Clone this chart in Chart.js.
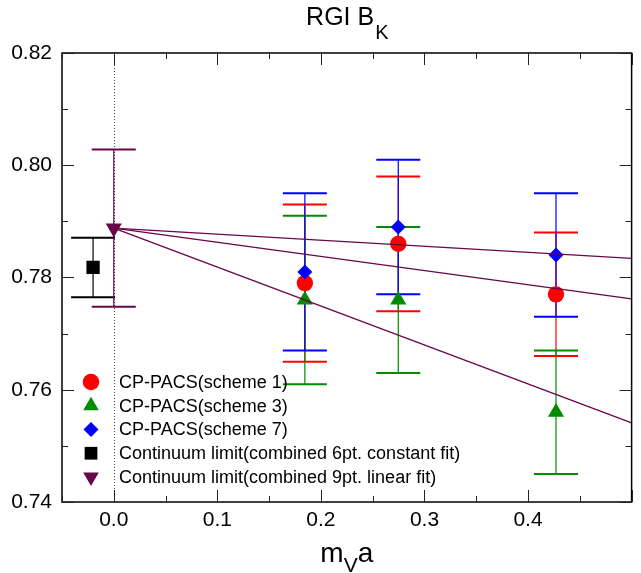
<!DOCTYPE html>
<html>
<head>
<meta charset="utf-8">
<script src="https://cdn.jsdelivr.net/npm/chart.js@4/dist/chart.umd.min.js"></script>
<style>
html, body { margin: 0; padding: 0; background: #fff; overflow: hidden; }
#wrap { width: 641px; height: 573px; }
</style>
</head>
<body>
<div id="wrap"><canvas id="bk" width="641" height="573"></canvas></div>
<script>
// m_V a for the three CP-PACS lattices
const mva = [0.1845, 0.2747, 0.427];

const scheme1 = [0.779, 0.786, 0.777];
const scheme1Err = [0.014, 0.012, 0.011];
const scheme3 = [0.776, 0.776, 0.756];
const scheme3Err = [0.015, 0.013, 0.011];
const scheme7 = [0.781, 0.789, 0.784];
const scheme7Err = [0.014, 0.012, 0.011];

// continuum limits
const constX = [-0.02];
const constFit = [0.7818];
const constErr = [0.0053];
const linX = [0.0];
const linFit = [0.7888];
const linErr = [0.014];

// linear fit lines, from a=0 to the right edge
const fitX = [0.0, 0.5];
const fitLine1 = [0.7888, 0.7762];
const fitLine3 = [0.7888, 0.7541];
const fitLine7 = [0.7888, 0.7834];

const xTicks = [0.0, 0.1, 0.2, 0.3, 0.4];
const yTicks = [0.74, 0.76, 0.78, 0.80, 0.82];

const legendLabels = [
  "CP-PACS(scheme 1)",
  "CP-PACS(scheme 3)",
  "CP-PACS(scheme 7)",
  "Continuum limit(combined 6pt. constant fit)",
  "Continuum limit(combined 9pt. linear fit)"
];

const FONT = "'Liberation Sans', Arial, Helvetica, sans-serif";
const RED = "#ff0000", GREEN = "#008b00", BLUE = "#0000ff", BLACK = "#000000", MAROON = "#670748";

const pts = (xs, ys) => xs.map((x, i) => ({ x: x, y: ys[i] }));

const legendMarks = [
  { color: RED, style: "circle", radius: 8.3, rotation: 0 },
  { color: GREEN, style: "triangle", radius: 9, rotation: 0 },
  { color: BLUE, style: "rectRot", radius: 7.5, rotation: 0 },
  { color: BLACK, style: "rect", radius: 9, rotation: 0 },
  { color: MAROON, style: "triangle", radius: 9, rotation: 180 }
];

const errorSets = [
  { xs: mva, ys: scheme1, err: scheme1Err, color: RED },
  { xs: mva, ys: scheme3, err: scheme3Err, color: GREEN },
  { xs: mva, ys: scheme7, err: scheme7Err, color: BLUE },
  { xs: constX, ys: constFit, err: constErr, color: BLACK },
  { xs: linX, ys: linFit, err: linErr, color: MAROON }
];

const backdrop = {
  id: "backdrop",
  beforeDatasetsDraw(chart) {
    const { ctx, chartArea: a, scales: { x, y } } = chart;
    ctx.save();

    // dotted line at m_V a = 0
    ctx.strokeStyle = "#444";
    ctx.lineWidth = 1;
    ctx.setLineDash([1, 2]);
    ctx.beginPath();
    ctx.moveTo(Math.round(x.getPixelForValue(0)) + 0.5, a.top);
    ctx.lineTo(Math.round(x.getPixelForValue(0)) + 0.5, a.bottom);
    ctx.stroke();
    ctx.setLineDash([]);

    // error bars
    errorSets.forEach(s => {
      ctx.strokeStyle = s.color;
      s.xs.forEach((xv, i) => {
        const px = x.getPixelForValue(xv);
        const top = y.getPixelForValue(s.ys[i] + s.err[i]);
        const bot = y.getPixelForValue(s.ys[i] - s.err[i]);
        ctx.lineWidth = 1.2;
        ctx.beginPath();
        ctx.moveTo(px, top);
        ctx.lineTo(px, bot);
        ctx.stroke();
        ctx.lineWidth = 2;
        ctx.beginPath();
        ctx.moveTo(px - 22, top);
        ctx.lineTo(px + 22, top);
        ctx.moveTo(px - 22, bot);
        ctx.lineTo(px + 22, bot);
        ctx.stroke();
      });
    });
    ctx.restore();
  },
  afterDraw(chart) {
    const { ctx, chartArea: a, scales: { x, y } } = chart;
    ctx.save();

    // frame
    ctx.strokeStyle = "#000";
    ctx.lineWidth = 1.5;
    ctx.strokeRect(a.left, a.top, a.right - a.left, a.bottom - a.top);

    // inward ticks on all four sides
    ctx.lineWidth = 1;
    ctx.strokeStyle = "#222";
    ctx.beginPath();
    for (let k = -1; k <= 10; k++) {
      const v = k * 0.05;
      const px = Math.round(x.getPixelForValue(v)) + 0.5;
      const len = k % 2 === 0 ? 12 : 6;
      ctx.moveTo(px, a.bottom); ctx.lineTo(px, a.bottom - len);
      ctx.moveTo(px, a.top); ctx.lineTo(px, a.top + len);
    }
    for (let k = 0; k <= 8; k++) {
      const v = 0.74 + k * 0.01;
      const py = Math.round(y.getPixelForValue(v)) + 0.5;
      const len = k % 2 === 0 ? 12 : 6;
      ctx.moveTo(a.left, py); ctx.lineTo(a.left + len, py);
      ctx.moveTo(a.right, py); ctx.lineTo(a.right - len, py);
    }
    ctx.stroke();

    // legend
    ctx.textAlign = "left";
    ctx.textBaseline = "middle";
    ctx.font = "18px " + FONT;
    legendLabels.forEach((label, i) => {
      const ly = 382 + i * 23.75;
      const m = legendMarks[i];
      ctx.fillStyle = m.color;
      Chart.helpers.drawPoint(ctx, { pointStyle: m.style, radius: m.radius, rotation: m.rotation, borderWidth: 0 }, 91, ly);
      ctx.fillStyle = "#000";
      ctx.fillText(label, 119, ly + 1);
    });

    // title with subscript
    const cx = (a.left + a.right) / 2;
    ctx.fillStyle = "#000";
    ctx.textBaseline = "alphabetic";
    ctx.font = "25px " + FONT;
    const t1 = "RGI B";
    const w1 = ctx.measureText(t1).width;
    ctx.font = "20px " + FONT;
    const w2 = ctx.measureText("K").width;
    let sx = cx - (w1 + w2) / 2;
    ctx.font = "25px " + FONT;
    ctx.fillText(t1, sx, 25);
    ctx.font = "20px " + FONT;
    ctx.fillText("K", sx + w1 + 1, 39);

    // x axis label m_V a
    ctx.font = "28px " + FONT;
    const wm = ctx.measureText("m").width;
    const wa = ctx.measureText("a").width;
    ctx.font = "21px " + FONT;
    const wv = ctx.measureText("V").width;
    sx = cx - (wm + wv + wa) / 2;
    ctx.font = "28px " + FONT;
    ctx.fillText("m", sx, 562);
    ctx.fillText("a", sx + wm + wv, 562);
    ctx.font = "21px " + FONT;
    ctx.fillText("V", sx + wm, 572);

    ctx.restore();
  }
};

new Chart(document.getElementById("bk"), {
  type: "scatter",
  data: {
    datasets: [
      { data: pts(fitX, fitLine7), showLine: true, borderColor: MAROON, borderWidth: 1.3, pointRadius: 0 },
      { data: pts(fitX, fitLine1), showLine: true, borderColor: MAROON, borderWidth: 1.3, pointRadius: 0 },
      { data: pts(fitX, fitLine3), showLine: true, borderColor: MAROON, borderWidth: 1.3, pointRadius: 0 },
      { data: pts(linX, linFit), pointStyle: "triangle", rotation: 180, pointRadius: 9.3, pointBackgroundColor: MAROON, pointBorderWidth: 0 },
      { data: pts(constX, constFit), pointStyle: "rect", pointRadius: 9.4, pointBackgroundColor: BLACK, pointBorderWidth: 0 },
      { data: pts(mva, scheme7), pointStyle: "rectRot", pointRadius: 7.5, pointBackgroundColor: BLUE, pointBorderWidth: 0 },
      { data: pts(mva, scheme1), pointStyle: "circle", pointRadius: 8.2, pointBackgroundColor: RED, pointBorderWidth: 0 },
      { data: pts(mva, scheme3), pointStyle: "triangle", pointRadius: 9.3, pointBackgroundColor: GREEN, pointBorderWidth: 0 }
    ]
  },
  options: {
    responsive: false,
    animation: false,
    events: [],
    layout: { padding: { top: 53, right: -1, left: 0, bottom: 0 } },
    plugins: {
      legend: { display: false },
      tooltip: { enabled: false }
    },
    scales: {
      x: {
        type: "linear",
        min: -0.05,
        max: 0.5,
        grid: { display: false, drawTicks: false },
        border: { display: false },
        afterBuildTicks: s => { s.ticks = xTicks.map(v => ({ value: v })); },
        afterFit: s => { s.height = 71; },
        ticks: {
          autoSkip: false,
          maxRotation: 0,
          padding: 6,
          color: "#000",
          font: { family: FONT, size: 21 },
          callback: v => v.toFixed(1)
        }
      },
      y: {
        min: 0.74,
        max: 0.82,
        grid: { display: false, drawTicks: false },
        border: { display: false },
        afterBuildTicks: s => { s.ticks = yTicks.map(v => ({ value: v })); },
        afterFit: s => { s.width = 62; },
        ticks: {
          padding: 10,
          color: "#000",
          font: { family: FONT, size: 21 },
          callback: v => v.toFixed(2)
        }
      }
    }
  },
  plugins: [backdrop]
});
</script>
</body>
</html>
